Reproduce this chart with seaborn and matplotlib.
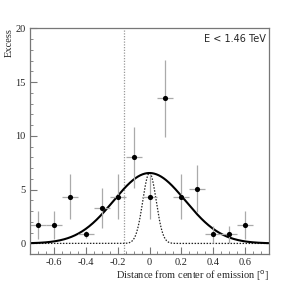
import numpy as np
import pandas as pd
import matplotlib.pyplot as plt
import seaborn as sns
from matplotlib.ticker import MultipleLocator

# --- dados ---
dist = [-0.7, -0.6, -0.5, -0.4, -0.3, -0.2, -0.1, 0.0, 0.1, 0.2, 0.3, 0.4, 0.5, 0.6]
excess = [1.7, 1.7, 4.35, 0.85, 3.3, 4.35, 8.0, 4.35, 13.5, 4.35, 5.1, 0.85, 0.85, 1.7]
err_y = [1.3, 1.3, 2.1, 0.3, 1.9, 2.1, 2.8, 2.1, 3.6, 2.1, 2.2, 0.8, 0.8, 1.3]
err_x = [0.05] * len(dist)

# ajuste gaussiano (largo) e PSF (estreito)
fit_amp = 6.55
fit_sigma = 0.225
psf_sigma = 0.042
source_pos = -0.16
label_text = "E < 1.46 TeV"

sns.set_theme(style="ticks")
plt.rcParams['font.family'] = ['Liberation Serif', 'DejaVu Serif']

fig, ax = plt.subplots(figsize=(2.99, 2.84), dpi=100)
fig.subplots_adjust(left=0.10, right=0.90, top=0.90, bottom=0.105)

xs = np.linspace(-0.75, 0.75, 400)
curvas = pd.DataFrame({
    'x': xs,
    'fit': fit_amp * np.exp(-xs**2 / (2 * fit_sigma**2)),
    'psf': fit_amp * np.exp(-xs**2 / (2 * psf_sigma**2)),
})

ax.axvline(source_pos, color='#999999', linestyle=(0, (1, 1.2)), linewidth=0.9)
sns.lineplot(data=curvas, x='x', y='psf', ax=ax, color='#222222',
             linestyle=(0, (1.2, 1.2)), linewidth=0.9)
sns.lineplot(data=curvas, x='x', y='fit', ax=ax, color='black', linewidth=1.5)

ax.errorbar(dist, excess, yerr=err_y, xerr=err_x, fmt='none',
            ecolor='#aaaaaa', elinewidth=0.9, capsize=0)
sns.scatterplot(x=dist, y=excess, ax=ax, color='black', s=14,
                edgecolor='black', linewidth=0, zorder=5)

ax.set_xlim(-0.75, 0.75)
ax.set_ylim(-1.0, 20)
ax.xaxis.set_major_locator(MultipleLocator(0.2))
ax.xaxis.set_minor_locator(MultipleLocator(0.05))
ax.yaxis.set_major_locator(MultipleLocator(5))
ax.yaxis.set_minor_locator(MultipleLocator(1))
ax.tick_params(which='both', direction='in', labelsize=7.5, color='#777777',
               top=False, right=False, pad=3)
ax.tick_params(which='major', length=5, width=0.8)
ax.tick_params(which='minor', length=2.5, width=0.6)
ax.set_xticks([-0.6, -0.4, -0.2, 0.0, 0.2, 0.4, 0.6])
ax.set_xticklabels(['-0.6', '-0.4', '-0.2', '0', '0.2', '0.4', '0.6'])

for s in ax.spines.values():
    s.set_color('#777777')
    s.set_linewidth(0.9)

ax.set_xlabel('Distance from center of emission [$^{\\mathrm{o}}$]',
              fontsize=7.5, loc='right', labelpad=1)
ax.set_ylabel('Excess', fontsize=7.5, loc='top', labelpad=1)
ax.text(0.985, 0.975, label_text, transform=ax.transAxes, ha='right', va='top',
        fontsize=7, family=['DejaVu Sans'])

plt.savefig('out.png', dpi=100)
plt.close()
